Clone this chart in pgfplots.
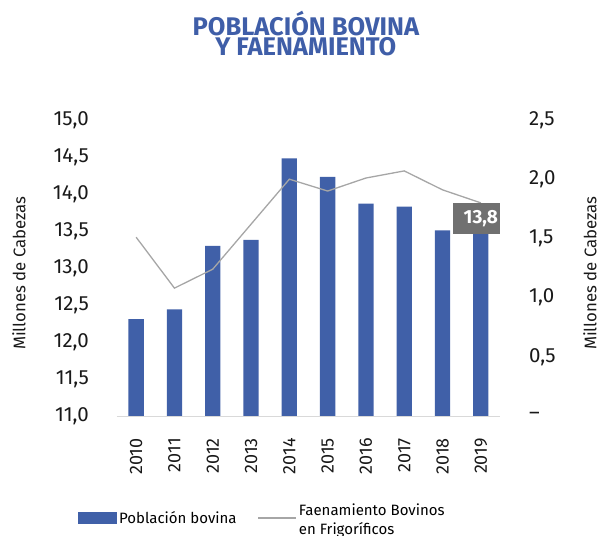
\documentclass[border=0pt]{standalone}
\usepackage{pgfplots}
\pgfplotsset{compat=1.18}
\usepackage{fontspec}
\setmainfont{Fira Sans}
\definecolor{barblue}{HTML}{4060A8}
\definecolor{titleblue}{HTML}{3F5EA8}
\definecolor{linegray}{HTML}{A6A6A6}
\definecolor{boxgray}{HTML}{707070}
\begin{document}
\begin{tikzpicture}
\pgfplotsset{
  common/.style={
    width=383bp, height=296bp, scale only axis,
    xmin=-0.5, xmax=9.5,
    axis line style={draw=none},
    tick style={draw=none},
    ticklabel style={font=\fontsize{20.5bp}{23bp}\selectfont, text=black!90, inner sep=0pt},
    label style={font=\fontsize{16.8bp}{19bp}\selectfont, text=black!90},
  }
}
\begin{axis}[common,
  ymin=11, ymax=15,
  ytick={11,11.5,12,12.5,13,13.5,14,14.5,15},
  yticklabels={{11,0},{11,5},{12,0},{12,5},{13,0},{13,5},{14,0},{14,5},{15,0}},
  y tick label style={anchor=east, xshift=-28bp},
  xtick={0,1,2,3,4,5,6,7,8,9},
  xticklabels={2010,2011,2012,2013,2014,2015,2016,2017,2018,2019},
  x tick label style={rotate=90, anchor=east, font=\fontsize{18bp}{21bp}\selectfont},
  xticklabel shift=22bp,
  ylabel={Millones de Cabezas},
  ylabel style={at={(axis description cs:-0.256,0.483)}, anchor=center},
  title={POBLACIÓN BOVINA\\Y FAENAMIENTO},
  title style={align=center, font=\bfseries\fontsize{25.5bp}{20bp}\selectfont, text=titleblue, at={(axis description cs:0.493,1.196)}, anchor=south, inner sep=0pt},
  legend columns=2,
  legend cell align=left,
  legend style={at={(axis description cs:-0.102,-0.345)}, anchor=west, draw=none, fill=none, inner sep=0pt,
    font=\fontsize{15bp}{18bp}\selectfont, /tikz/every even column/.append style={column sep=19bp}},
]
\addplot[ybar, bar width=15.3bp, fill=barblue, draw=none,
  legend image code/.code={\fill[barblue] (0bp,-6bp) rectangle (39bp,6bp);}]
  coordinates {(0,12.31) (1,12.44) (2,13.30) (3,13.38) (4,14.48) (5,14.23) (6,13.87) (7,13.83) (8,13.51) (9,13.80)};
\addlegendentry{Población bovina}
\addlegendimage{legend image code/.code={\draw[linegray, line width=1.3bp] (0bp,0bp) -- (38bp,0bp);}}
\addlegendentry{\raisebox{8bp}{\def\arraystretch{1.05}\begin{tabular}[c]{@{}l@{}}Faenamiento Bovinos\\en Frigoríficos\end{tabular}}}
\draw[black!15, line width=1bp] (rel axis cs:0,0) -- (rel axis cs:1,0);
\end{axis}
\begin{axis}[common,
  ymin=0, ymax=2.5,
  ytick={0,0.5,1,1.5,2,2.5},
  yticklabels={–,{0,5},{1,0},{1,5},{2,0},{2,5}},
  yticklabel pos=right,
  y tick label style={anchor=west, xshift=29bp},
  xtick=\empty,
  ylabel={Millones de Cabezas},
  ylabel style={at={(axis description cs:1.235,0.483)}, anchor=center},
]
\addplot[linegray, line width=1.3bp, mark=none]
  coordinates {(0,1.51) (1,1.08) (2,1.24) (3,1.62) (4,2.00) (5,1.90) (6,2.01) (7,2.07) (8,1.91) (9,1.80)};
\node[fill=boxgray, text=white, font=\bfseries\fontsize{19bp}{21bp}\selectfont, minimum width=56bp, minimum height=31bp, inner sep=0pt]
  at (axis cs:9,1.668) {13,8};
\end{axis}
\pgfresetboundingbox
\path[use as bounding box] (-117bp,-120bp) rectangle (485bp,416bp);
\end{tikzpicture}
\end{document}
